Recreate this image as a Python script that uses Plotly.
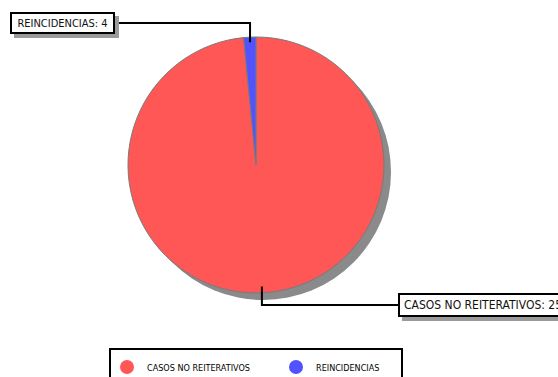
import math
import plotly.graph_objects as go

# Case counts
categories = ["CASOS NO REITERATIVOS", "REINCIDENCIAS"]
values = [255, 4]
colors = ["#FF5656", "#5252FF"]

W, H = 558, 377
CX, CY, R = 256, 165, 128          # pie centre / radius (px)
SHADOW_DX, SHADOW_DY = 7, 7
FONT = "Liberation Sans Narrow, Arial Narrow, DejaVu Sans Condensed, sans-serif"


def fx(x):
    return x / W


def fy(y):
    return 1 - y / H


def pie_domain(cx, cy, r):
    return dict(x=[fx(cx - r), fx(cx + r)], y=[fy(cy + r), fy(cy - r)])


fig = go.Figure()

# drop shadow under the pie
fig.add_trace(go.Pie(
    values=[sum(values)], domain=pie_domain(CX + SHADOW_DX, CY + SHADOW_DY, R),
    marker=dict(colors=["#8a8a8a"]), textinfo="none", hoverinfo="skip",
    showlegend=False, sort=False,
))

fig.add_trace(go.Pie(
    labels=categories, values=values, domain=pie_domain(CX, CY, R),
    sort=False, direction="clockwise", rotation=0,
    marker=dict(colors=colors, line=dict(color="#7a7a7a", width=1)),
    textinfo="none", showlegend=False,
))

# legend entries with round markers
for name, c in zip(categories, colors):
    fig.add_trace(go.Scatter(
        x=[None], y=[None], mode="markers", name=name,
        marker=dict(color=c, size=14, symbol="circle"),
    ))

# slice mid-angles (degrees clockwise from 12 o'clock)
total = sum(values)
mids = []
acc = 0
for v in values:
    mids.append((acc + v / 2) / total * 360)
    acc += v


def on_slice(mid, frac):
    a = math.radians(mid)
    return CX + frac * R * math.sin(a), CY - frac * R * math.cos(a)


# callout geometry: fraction of radius, elbow y, box edge x, box side, box w/h
callouts = [
    dict(frac=0.95, ey=305, bx=398, side="left", w=200, h=24, align="left", size=12),
    dict(frac=0.96, ey=23, bx=115, side="right", w=105, h=22, align="center", size=11),
]
PAD, BW = 4, 2

shapes = []
annotations = []
for cat, val, mid, c in zip(categories, values, mids, callouts):
    x0, y0 = on_slice(mid, c["frac"])
    path = f"M {fx(x0)},{fy(y0)} L {fx(x0)},{fy(c['ey'])} L {fx(c['bx'])},{fy(c['ey'])}"
    shapes.append(dict(type="path", xref="paper", yref="paper", path=path,
                       line=dict(color="black", width=2), layer="above"))
    # box shadow
    left = c["bx"] if c["side"] == "left" else c["bx"] - c["w"]
    top = c["ey"] - c["h"] / 2
    shapes.append(dict(type="rect", xref="paper", yref="paper",
                       x0=fx(left + 4), x1=fx(left + c["w"] + 4),
                       y0=fy(top + 4), y1=fy(top + c["h"] + 4),
                       fillcolor="#9a9a9a", line=dict(width=0), layer="above"))
    annotations.append(dict(
        text=f"{cat}: {val}", xref="paper", yref="paper",
        x=fx(c["bx"]), y=fy(c["ey"]), xanchor=c["side"], yanchor="middle",
        width=c["w"] - 2 * PAD - 2 * BW, height=c["h"] - 2 * PAD - 2 * BW,
        align=c["align"], showarrow=False, borderpad=PAD, borderwidth=BW,
        bgcolor="white", bordercolor="black",
        font=dict(family=FONT, size=c["size"], color="#111"),
    ))

# legend frame
shapes.append(dict(type="rect", xref="paper", yref="paper",
                   x0=fx(110), x1=fx(402), y0=fy(349), y1=fy(385),
                   fillcolor="white", line=dict(color="black", width=2),
                   layer="above"))

fig.update_layout(
    width=W, height=H,
    margin=dict(l=0, r=0, t=0, b=0, autoexpand=False),
    paper_bgcolor="white", plot_bgcolor="white",
    xaxis=dict(visible=False), yaxis=dict(visible=False),
    shapes=shapes, annotations=annotations,
    showlegend=True,
    legend=dict(
        orientation="h", x=fx(107), y=fy(367), xanchor="left", yanchor="middle",
        borderwidth=0, bgcolor="rgba(0,0,0,0)",
        font=dict(family=FONT, size=9, color="#000"),
        entrywidth=124, entrywidthmode="pixels",
    ),
)

fig.write_html("out.html")
